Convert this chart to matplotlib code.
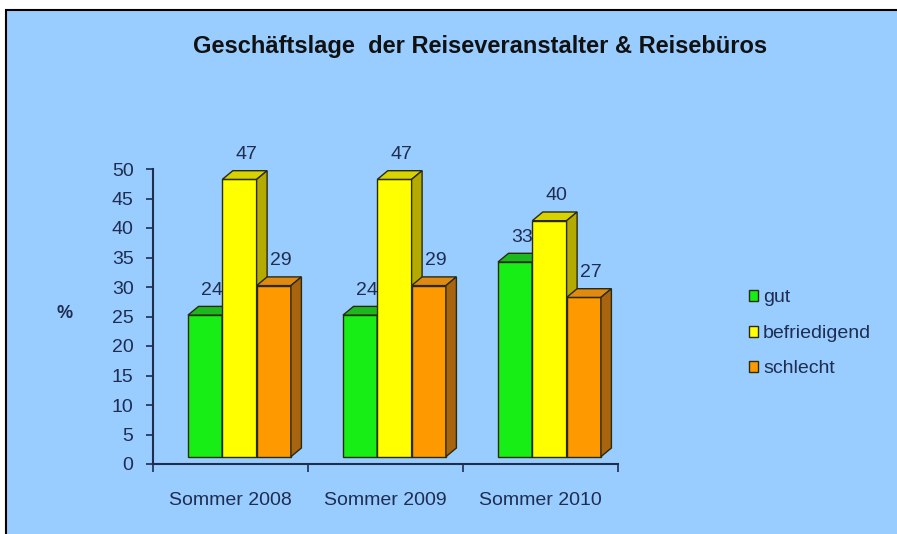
import matplotlib.pyplot as plt
from matplotlib.patches import Rectangle, Polygon, Patch

# data
categories = ["Sommer 2008", "Sommer 2009", "Sommer 2010"]
series = ["gut", "befriedigend", "schlecht"]
gut = [24, 24, 33]
befriedigend = [47, 47, 40]
schlecht = [29, 29, 27]
values = [gut, befriedigend, schlecht]

front_cols = ["#16EE16", "#FFFF00", "#FF9900"]
top_cols = ["#1DB81D", "#D8D200", "#E08A12"]
side_cols = ["#139913", "#B4AA00", "#A8640E"]
edge = "#2A2A10"
navy = "#1F2D4F"
bg = "#99CCFF"

plt.rcParams['font.family'] = ['Liberation Sans', 'DejaVu Sans']

W, H = 897, 534
fig = plt.figure(figsize=(W / 100, H / 100), dpi=100)
fig.patch.set_facecolor("white")
fig.add_artist(Rectangle((6 / W, -0.01), 1, 1 - 10 / H + 0.01,
                         transform=fig.transFigure, facecolor=bg,
                         edgecolor="black", linewidth=1.5, zorder=-10))

# axes: x from 153 to 618 px, y 0 at 464 px, 50 at 169 px
ax = fig.add_axes([153 / W, (H - 464) / H, (618 - 153) / W, (464 - 169) / H])
ax.set_facecolor("none")
ax.set_xlim(-0.5, 2.5)
ax.set_ylim(0, 50)

cat_px = (618 - 153) / 3
unit_y = (464 - 169) / 50
bw = 34.3 / cat_px          # bar width
dx = 10.5 / cat_px          # depth offset x
dy = 8.7 / unit_y           # depth offset y
base = 7.3 / unit_y         # front face lift
g0 = 35 / cat_px - 0.5      # left edge of the first bar in a group

for i in range(len(categories)):
    for j in range(len(series)):
        v = values[j][i]
        x = i + g0 + j * bw
        top = v + base
        ax.add_patch(Rectangle((x, base), bw, v, facecolor=front_cols[j],
                               edgecolor=edge, linewidth=1, clip_on=False, zorder=3))
        ax.add_patch(Polygon([(x, top), (x + bw, top), (x + bw + dx, top + dy),
                              (x + dx, top + dy)], closed=True,
                             facecolor=top_cols[j], edgecolor=edge,
                             linewidth=1, clip_on=False, zorder=3))
        ax.add_patch(Polygon([(x + bw, base), (x + bw, top), (x + bw + dx, top + dy),
                              (x + bw + dx, base + dy)], closed=True,
                             facecolor=side_cols[j], edgecolor=edge,
                             linewidth=1, clip_on=False, zorder=3))
        ax.annotate(str(v), (x + bw / 2, top), xytext=(7, 25),
                    textcoords="offset pixels", ha="center", va="center",
                    fontsize=14, color=navy, zorder=5)

for s in ["top", "right"]:
    ax.spines[s].set_visible(False)
for s in ["left", "bottom"]:
    ax.spines[s].set_color(navy)
    ax.spines[s].set_linewidth(1.5)

ax.set_yticks(range(0, 51, 5))
ax.tick_params(axis="y", direction="out", length=5, width=1.2, color=navy,
               labelcolor=navy, labelsize=14, pad=9)
ax.set_xticks([-0.5, 0.5, 1.5, 2.5])
ax.set_xticklabels([])
ax.set_xticks(range(len(categories)), minor=True)
ax.set_xticklabels(categories, minor=True)
ax.tick_params(axis="x", which="major", direction="out", length=6, width=1.2, color=navy)
ax.tick_params(axis="x", which="minor", length=0, labelcolor=navy, labelsize=14, pad=20)

fig.text(65 / W, 1 - 313 / H, "%", fontsize=13, fontweight="bold", color=navy,
         ha="center", va="center")
fig.text(480 / W, 1 - 47 / H, "Geschäftslage  der Reiseveranstalter & Reisebüros",
         fontsize=17, fontweight="bold", color="#111111", ha="center", va="center")

handles = [Patch(facecolor=front_cols[j], edgecolor=edge, linewidth=1) for j in range(3)]
fig.legend(handles, series, loc="upper left", bbox_to_anchor=(731 / W, 1 - 272 / H),
           frameon=False, fontsize=14, handlelength=0.5, handleheight=0.5,
           handletextpad=0.25, labelspacing=0.95, labelcolor=navy)

fig.savefig("out.png", dpi=100)
